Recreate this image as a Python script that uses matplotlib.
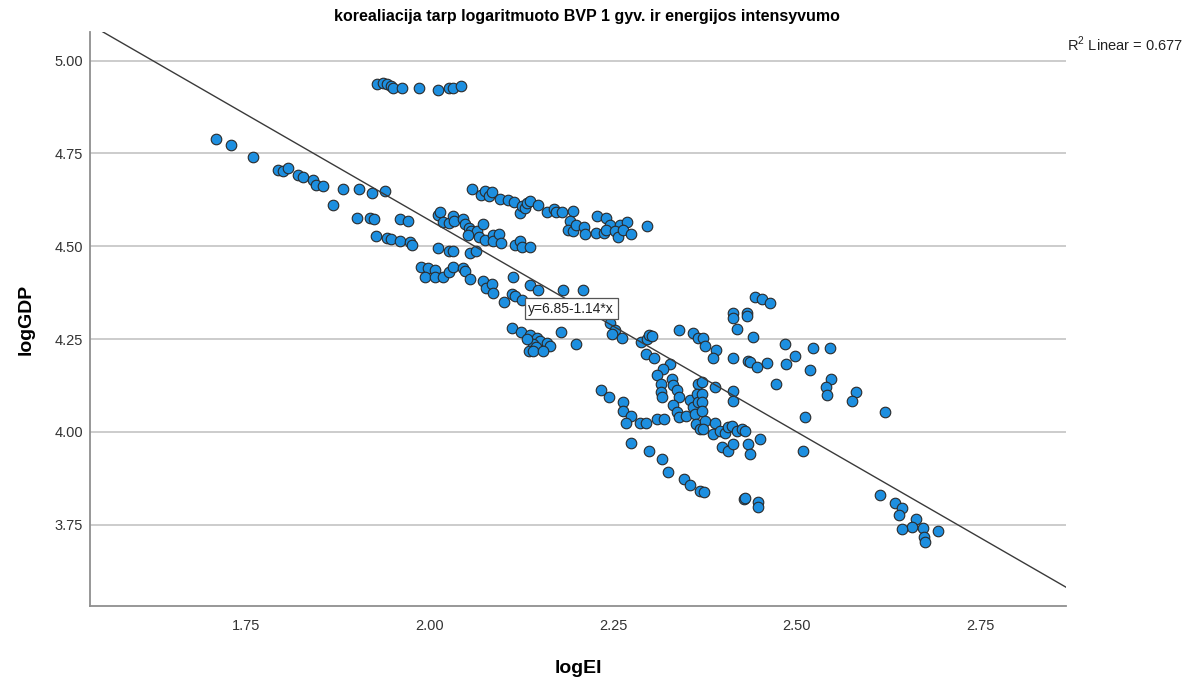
import matplotlib
matplotlib.use("Agg")
import matplotlib.pyplot as plt
import numpy as np

plt.rcParams['font.family'] = ['Liberation Sans', 'DejaVu Sans']
plt.rcParams['mathtext.fontset'] = 'custom'
plt.rcParams['mathtext.rm'] = 'Liberation Sans'

# logEI / logGDP observations, grouped roughly by where they sit in the cloud
ei_left = [1.709, 1.730, 1.759, 1.793, 1.801, 1.807, 1.821, 1.828, 1.841, 1.845,
           1.855, 1.868, 1.882, 1.904, 1.921, 1.940, 1.901, 1.919, 1.924, 1.960,
           1.971, 1.927, 1.942, 1.947, 1.960, 1.973, 1.976, 2.012, 2.027, 2.011,
           2.014, 2.018, 2.027, 1.989, 1.998, 2.007, 1.994, 2.007, 2.019, 2.027]
gdp_left = [4.788, 4.773, 4.741, 4.705, 4.702, 4.710, 4.693, 4.687, 4.679, 4.666,
            4.661, 4.612, 4.655, 4.655, 4.644, 4.650, 4.576, 4.576, 4.574, 4.574,
            4.567, 4.527, 4.522, 4.520, 4.515, 4.511, 4.504, 4.495, 4.488, 4.585,
            4.592, 4.564, 4.563, 4.443, 4.441, 4.436, 4.416, 4.418, 4.416, 4.430]

ei_top = [1.929, 1.936, 1.942, 1.948, 1.950, 1.963, 1.986, 2.012, 2.027, 2.032, 2.043]
gdp_top = [4.937, 4.939, 4.936, 4.932, 4.925, 4.926, 4.926, 4.922, 4.925, 4.926, 4.932]

ei_band = [2.058, 2.070, 2.076, 2.081, 2.085, 2.096, 2.107, 2.115, 2.123, 2.126,
           2.130, 2.133, 2.137, 2.148, 2.160, 2.170, 2.172, 2.181, 2.196, 2.228,
           2.241, 2.246, 2.259, 2.269, 2.192, 2.188, 2.195, 2.200, 2.210, 2.212,
           2.227, 2.237, 2.241, 2.253, 2.257, 2.263, 2.275, 2.296]
gdp_band = [4.655, 4.638, 4.650, 4.635, 4.647, 4.626, 4.624, 4.619, 4.590, 4.608,
            4.603, 4.617, 4.623, 4.612, 4.592, 4.599, 4.592, 4.592, 4.596, 4.581,
            4.576, 4.558, 4.558, 4.564, 4.567, 4.544, 4.540, 4.558, 4.551, 4.534,
            4.535, 4.535, 4.544, 4.541, 4.524, 4.544, 4.533, 4.555]

ei_mid = [2.032, 2.033, 2.046, 2.048, 2.054, 2.057, 2.064, 2.053, 2.068, 2.073,
          2.076, 2.086, 2.087, 2.095, 2.097, 2.116, 2.123, 2.126, 2.137, 2.032,
          2.055, 2.063, 2.032, 2.046, 2.048, 2.055, 2.073, 2.077, 2.085, 2.087,
          2.101, 2.114, 2.112, 2.116, 2.126, 2.137, 2.148, 2.182, 2.209]
gdp_mid = [4.581, 4.567, 4.572, 4.560, 4.549, 4.540, 4.540, 4.531, 4.524, 4.560,
           4.517, 4.531, 4.513, 4.534, 4.508, 4.504, 4.515, 4.499, 4.497, 4.488,
           4.481, 4.486, 4.443, 4.441, 4.432, 4.412, 4.406, 4.387, 4.397, 4.373,
           4.350, 4.416, 4.370, 4.366, 4.355, 4.395, 4.382, 4.382, 4.382]

ei_centre = [2.113, 2.124, 2.137, 2.147, 2.151, 2.141, 2.145, 2.135, 2.141, 2.160,
             2.164, 2.179, 2.199, 2.133, 2.155, 2.246, 2.253, 2.248, 2.262, 2.288,
             2.296, 2.299, 2.303, 2.295, 2.306, 2.340, 2.359, 2.366, 2.328, 2.318,
             2.310, 2.315, 2.315, 2.316, 2.330, 2.332, 2.337, 2.340, 2.332, 2.337,
             2.340, 2.350, 2.355, 2.359, 2.362, 2.363, 2.366, 2.365, 2.366, 2.368,
             2.233, 2.244, 2.264, 2.263, 2.275, 2.268, 2.287, 2.295, 2.310, 2.320,
             2.275, 2.299, 2.316, 2.325, 2.346, 2.355, 2.369]
gdp_centre = [4.281, 4.269, 4.260, 4.254, 4.246, 4.238, 4.229, 4.218, 4.218, 4.239,
              4.230, 4.269, 4.238, 4.251, 4.219, 4.292, 4.275, 4.263, 4.254, 4.242,
              4.251, 4.260, 4.257, 4.209, 4.200, 4.275, 4.265, 4.254, 4.183, 4.170,
              4.154, 4.129, 4.107, 4.093, 4.143, 4.125, 4.113, 4.093, 4.073, 4.053,
              4.039, 4.043, 4.086, 4.066, 4.048, 4.021, 4.129, 4.102, 4.080, 4.007,
              4.113, 4.095, 4.080, 4.057, 4.043, 4.025, 4.025, 4.025, 4.034, 4.034,
              3.969, 3.949, 3.926, 3.893, 3.872, 3.856, 3.840]

ei_right = [2.443, 2.453, 2.464, 2.414, 2.432, 2.414, 2.432, 2.419, 2.440, 2.372,
            2.375, 2.390, 2.386, 2.413, 2.434, 2.437, 2.446, 2.460, 2.484, 2.486,
            2.498, 2.522, 2.546, 2.518, 2.472, 2.547, 2.540, 2.542, 2.581, 2.576,
            2.621, 2.511, 2.371, 2.371, 2.371, 2.371, 2.375, 2.389, 2.414, 2.414,
            2.389, 2.372, 2.386, 2.396, 2.403, 2.407, 2.412, 2.419, 2.425, 2.430,
            2.450, 2.398, 2.407, 2.413, 2.434, 2.436, 2.509, 2.374, 2.428, 2.430,
            2.448, 2.447]
gdp_right = [4.364, 4.358, 4.346, 4.319, 4.319, 4.308, 4.311, 4.278, 4.256, 4.254,
             4.230, 4.221, 4.200, 4.200, 4.192, 4.188, 4.174, 4.185, 4.238, 4.183,
             4.203, 4.226, 4.226, 4.167, 4.129, 4.143, 4.122, 4.098, 4.107, 4.082,
             4.053, 4.041, 4.134, 4.102, 4.080, 4.057, 4.028, 4.122, 4.109, 4.082,
             4.023, 4.007, 3.994, 4.003, 3.998, 4.012, 4.016, 4.003, 4.007, 4.001,
             3.980, 3.959, 3.949, 3.967, 3.967, 3.940, 3.949, 3.839, 3.818, 3.822,
             3.811, 3.797]

ei_tail = [2.613, 2.634, 2.643, 2.640, 2.663, 2.657, 2.672, 2.643, 2.674, 2.675, 2.693]
gdp_tail = [3.829, 3.809, 3.795, 3.777, 3.766, 3.745, 3.741, 3.739, 3.716, 3.703, 3.734]

logEI = np.array(ei_left + ei_top + ei_band + ei_mid + ei_centre + ei_right + ei_tail)
logGDP = np.array(gdp_left + gdp_top + gdp_band + gdp_mid + gdp_centre + gdp_right + gdp_tail)

# fitted line y = a + b*x and its R^2
fit_a, fit_b = 6.85, -1.14
r2 = 0.677

x_ticks = [1.75, 2.00, 2.25, 2.50, 2.75]
y_ticks = [3.75, 4.00, 4.25, 4.50, 4.75, 5.00]
xlim = (1.5375, 2.867)
ylim = (3.531, 5.077)

fig = plt.figure(figsize=(12.03, 6.8), dpi=100)
ax = fig.add_axes([90 / 1203, 74 / 680, 976 / 1203, 574 / 680])

ax.set_xlim(xlim)
ax.set_ylim(ylim)

for yv in y_ticks:
    ax.axhline(yv, color='#c8c8c8', lw=1.3, zorder=0)

ax.scatter(logEI, logGDP, s=58, c='#1d8fe0', edgecolors='#2a2a2a',
           linewidths=0.8, zorder=3)

xs = np.array(xlim)
ax.plot(xs, fit_a + fit_b * xs, color='#3a3a3a', lw=1.0, zorder=4)

ax.text(2.193, 4.332, 'y=%.2f%.2f*x' % (fit_a, fit_b), ha='center', va='center',
        fontsize=10, color='#222222', zorder=5,
        bbox=dict(boxstyle='square,pad=0.25', fc='white', ec='#555555', lw=0.9))

for side in ['top', 'right']:
    ax.spines[side].set_visible(False)
for side in ['left', 'bottom']:
    ax.spines[side].set_color('#8f8f8f')
    ax.spines[side].set_linewidth(1.3)

ax.set_xticks(x_ticks)
ax.set_xticklabels(['%.2f' % v for v in x_ticks])
ax.set_yticks(y_ticks)
ax.set_yticklabels(['%.2f' % v for v in y_ticks])
ax.tick_params(axis='both', length=0, labelsize=10.5, labelcolor='#333333')
ax.tick_params(axis='y', pad=5)
ax.tick_params(axis='x', pad=9)

ax.set_xlabel('logEI', fontsize=14, fontweight='bold', labelpad=20)
ax.set_ylabel('logGDP', fontsize=14, fontweight='bold', labelpad=14)

fig.text(587 / 1203, 1 - 17 / 680,
         'korealiacija tarp logaritmuoto BVP 1 gyv. ir energijos intensyvumo',
         ha='center', va='center', fontsize=11.5, fontweight='bold')
fig.text(1067 / 1203, 1 - 44 / 680, r'R$^2$ Linear = %.3f' % r2,
         ha='left', va='center', fontsize=10.5, color='#222222')

fig.savefig('out.png', dpi=100)
